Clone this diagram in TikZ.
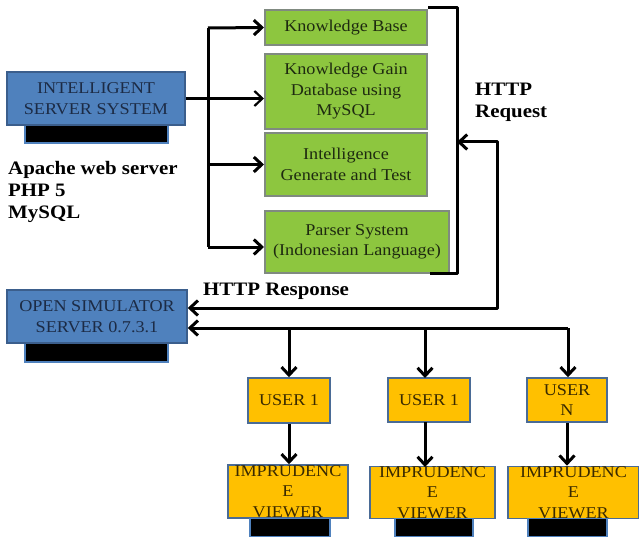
\documentclass[tikz,border=0pt]{standalone}
\usepackage{fontspec}
\setmainfont{Liberation Serif}[FakeStretch=1.1]
\usetikzlibrary{arrows.meta}
\definecolor{boxblue}{HTML}{4F81BD}
\definecolor{blueedge}{HTML}{3B5E8C}
\definecolor{boxgreen}{HTML}{8DC63F}
\definecolor{greenedge}{HTML}{808A80}
\definecolor{boxorange}{HTML}{FFC000}
\definecolor{orangeedge}{HTML}{4A6B96}
\definecolor{bluetext}{HTML}{1C2B45}
\definecolor{greentext}{HTML}{1E2A10}
\definecolor{orangetext}{HTML}{3A2A00}
\tikzset{
  base/.style={inner sep=0pt, align=center, font=\fontsize{16.5}{20.5}\selectfont},
  bluebox/.style={base, fill=boxblue, draw=blueedge, line width=1.5pt, text=bluetext},
  greenbox/.style={base, fill=boxgreen, draw=greenedge, line width=2pt, text=greentext},
  userbox/.style={base, fill=boxorange, draw=orangeedge, line width=1.5pt, text=orangetext},
  viewerbox/.style={base, fill=boxorange, draw=orangeedge, line width=1.5pt, text=orangetext},
  bar/.style={fill=black, draw=boxblue, line width=1.5pt},
  link/.style={line width=3pt, line join=round},
  arrow/.style={link, -{Straight Barb[length=8pt,width=15pt]}},
  twoway/.style={link, {Straight Barb[length=8pt,width=15pt]}-{Straight Barb[length=8pt,width=15pt]}},
  label/.style={inner sep=0pt, align=left, font=\bfseries\fontsize{19}{22}\selectfont}
}
\begin{document}
\begin{tikzpicture}[x=1pt, y=-1pt]
\useasboundingbox (0,0) rectangle (639,537);

% servers with their base bars
\node[bar, minimum width=143pt, minimum height=18pt] (ibar) at (96.5,134) {};
\node[bluebox, minimum width=178pt, minimum height=53pt] (isys) at (96,98.5) {INTELLIGENT\\SERVER SYSTEM};
\node[bar, minimum width=143pt, minimum height=19pt] (obar) at (96.5,352.5) {};
\node[bluebox, minimum width=180pt, minimum height=53pt] (osim) at (97,316.5) {OPEN SIMULATOR\\SERVER 0.7.3.1};

\node[label, anchor=north west] (stack) at (8,161) {Apache web server\\PHP 5\\MySQL};

% intelligent server modules
\node[greenbox, minimum width=162pt, minimum height=35pt] (kb) at (346,27.5) {Knowledge Base};
\node[greenbox, minimum width=162pt, minimum height=75pt] (kgd) at (346,91.5) {Knowledge Gain\\Database using\\MySQL};
\node[greenbox, minimum width=162pt, minimum height=63pt] (gen) at (346,164.5) {Intelligence\\Generate and Test};
\node[greenbox, minimum width=184pt, minimum height=62pt] (parser) at (357,242) {Parser System\\(Indonesian Language)};

% users and viewers
\node[userbox, minimum width=82pt, minimum height=45pt] (u1) at (289,400.5) {USER 1};
\node[userbox, minimum width=82pt, minimum height=44pt] (u2) at (429,400) {USER 1};
\node[userbox, minimum width=80pt, minimum height=44pt] (un) at (567,400) {USER\\N};

\node[viewerbox, minimum width=120pt, minimum height=53pt] (v1) at (288,491.5) {IMPRUDENC\\E\\VIEWER};
\node[viewerbox, minimum width=125pt, minimum height=51pt] (v2) at (432.5,492.5) {IMPRUDENC\\E\\VIEWER};
\node[viewerbox, minimum width=131pt, minimum height=51pt] (v3) at (573.5,492.5) {IMPRUDENC\\E\\VIEWER};
\node[bar, minimum width=80pt, minimum height=18pt] (v1bar) at (290,527.5) {};
\node[bar, minimum width=78pt, minimum height=18pt] (v2bar) at (434,527.5) {};
\node[bar, minimum width=79pt, minimum height=18pt] (v3bar) at (567.5,527.5) {};

% distribution bus from the intelligent server
\coordinate (bt) at (208,28);
\coordinate (bb) at (208,247);
\draw[link] (bt) -- (bb);
\draw[arrow] (bt) -- (kb.west);
\draw[arrow, line width=2.2pt] (isys.east) -- (isys.east -| kgd.west);
\draw[arrow] (bt |- gen.west) -- (gen.west);
\draw[arrow] (bb) -- (bb -| parser.west);

% bracket grouping the modules
\coordinate (btop) at (457,8);
\coordinate (bbot) at (457,273);
\draw[link] (kb.north east |- btop) -- (btop) -- (bbot) -- (430,273);

% HTTP request / response loop
\coordinate (req) at (457,142);
\coordinate (r1) at (497,308);
\draw[twoway] (osim.east |- r1) -- (r1) -- (r1 |- req) -- (req);

% simulator to users
\coordinate (r2) at (568,328);
\draw[arrow] (r2) -- (osim.east |- r2);
\draw[arrow] (r2) -- (r2 |- un.north);
\draw[arrow] (u1.north |- r2) -- (u1.north);
\draw[arrow] (425,328) -- (425,378);

% users to viewers
\draw[arrow] (u1.south) -- (u1.south |- v1.north);
\draw[arrow] (425,422) -- (425,467);
\draw[arrow] (un.south) -- (un.south |- v3.north);

\node[label, anchor=north west] (reqlabel) at (475,83) {HTTP\\Request};
\node[label, anchor=north west] (resplabel) at (203,283) {HTTP Response};
\end{tikzpicture}
\end{document}
